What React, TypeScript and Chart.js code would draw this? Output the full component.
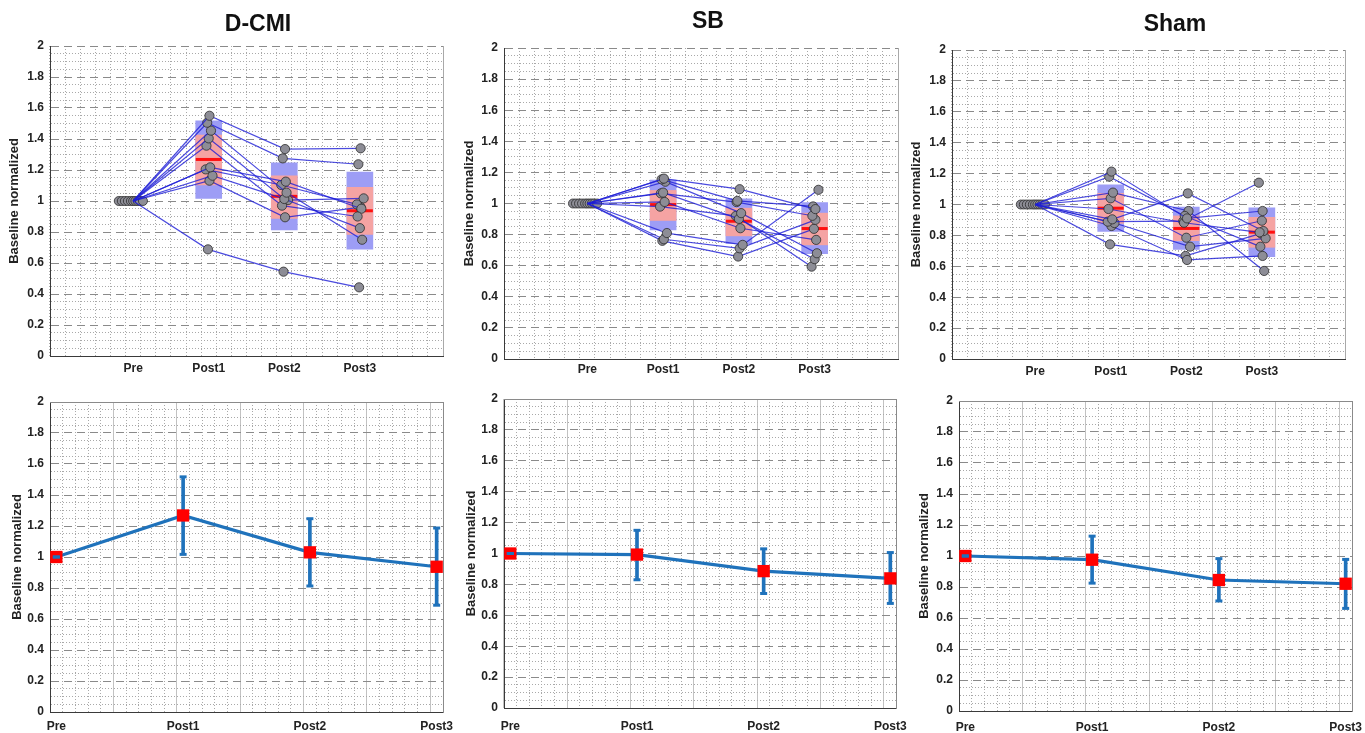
import React, { useEffect, useRef } from 'react';
import { Chart, registerables } from 'chart.js';

Chart.register(...registerables);
Chart.defaults.font.family = '"Liberation Sans", Arial, sans-serif';
Chart.defaults.color = '#222222';

// ---------------- DATA ----------------
const timepoints = ['Pre', 'Post1', 'Post2', 'Post3'];
const groupNames = ['D-CMI', 'SB', 'Sham'];
const yAxisTitle = 'Baseline normalized';

// Individual subjects, Pre = 1 for all; values at [Post1, Post2, Post3]
const dcmiSubjects = [
  [1.55, 1.335, 1.34],
  [1.505, 1.275, 1.237],
  [1.454, 1.054, 0.75],
  [1.404, 1.013, 0.825],
  [1.357, 0.97, 0.9],
  [1.217, 1.125, 0.95],
  [1.204, 1.103, 0.978],
  [1.163, 1.006, 1.017],
  [1.131, 0.895, 0.96],
  [0.688, 0.544, 0.443],
];
const sbSubjects = [
  [1.16, 1.092, 0.964],
  [1.155, 1.017, 0.981],
  [1.14, 0.938, 0.68],
  [1.07, 0.901, 0.642],
  [1.065, 1.009, 0.921],
  [1.01, 0.841, 0.766],
  [0.98, 0.92, 0.594],
  [0.81, 0.734, 1.088],
  [0.77, 0.712, 0.895],
  [0.76, 0.659, 0.837],
];
const shamSubjects = [
  [1.213, 0.91, 0.958],
  [1.18, 0.926, 0.727],
  [1.077, 0.958, 0.57],
  [1.04, 0.785, 0.895],
  [0.971, 0.882, 0.82],
  [0.904, 1.072, 0.828],
  [0.889, 0.892, 1.141],
  [0.88, 0.727, 0.781],
  [0.861, 0.641, 0.667],
  [0.742, 0.667, 0.813],
];

// Group means and spreads at [Pre, Post1, Post2, Post3]
const dcmiMean = [1.0, 1.268, 1.03, 0.937];
const dcmiSdLow = [1.0, 1.017, 0.813, 0.689];
const dcmiSdHigh = [1.0, 1.517, 1.247, 1.187];
const dcmiCiLow = [1.0, 1.103, 0.888, 0.785];
const dcmiCiHigh = [1.0, 1.426, 1.163, 1.088];

const sbMean = [1.0, 0.993, 0.886, 0.839];
const sbSdLow = [1.0, 0.83, 0.741, 0.677];
const sbSdHigh = [1.0, 1.15, 1.03, 1.006];
const sbCiLow = [1.0, 0.891, 0.792, 0.734];
const sbCiHigh = [1.0, 1.084, 0.97, 0.938];

const shamMean = [1.0, 0.976, 0.845, 0.821];
const shamSdLow = [1.0, 0.825, 0.71, 0.662];
const shamSdHigh = [1.0, 1.128, 0.983, 0.978];
const shamCiLow = [1.0, 0.878, 0.766, 0.723];
const shamCiHigh = [1.0, 1.072, 0.926, 0.917];

// horizontal jitter of the scatter markers (x units)
const preJitter = [-0.19, -0.15, -0.11, -0.07, -0.03, 0.0, 0.03, 0.06, 0.09, 0.13];
const postJitter = [0.01, -0.02, 0.03, 0.0, -0.03, 0.02, -0.04, 0.05, 0.01, -0.01];

const yTickLabels = ['0', '0.2', '0.4', '0.6', '0.8', '1', '1.2', '1.4', '1.6', '1.8', '2'];

const groups = [
  { name: groupNames[0], subjects: dcmiSubjects, mean: dcmiMean, sdLow: dcmiSdLow, sdHigh: dcmiSdHigh, ciLow: dcmiCiLow, ciHigh: dcmiCiHigh },
  { name: groupNames[1], subjects: sbSubjects, mean: sbMean, sdLow: sbSdLow, sdHigh: sbSdHigh, ciLow: sbCiLow, ciHigh: sbCiHigh },
  { name: groupNames[2], subjects: shamSubjects, mean: shamMean, sdLow: shamSdLow, sdHigh: shamSdHigh, ciLow: shamCiLow, ciHigh: shamCiHigh },
];

// ---------------- LAYOUT / STYLE ----------------
const topLayout = [
  { left: 0, top: 0, w: 516, h: 386, yW: 50, rW: 73, titlePad: { top: 11.2, bottom: 7.2 }, xPad: 5, xH: 30, yTitlePad: 7 },
  { left: 454, top: 0, w: 508, h: 389, yW: 50, rW: 64, titlePad: { top: 8.2, bottom: 12.2 }, xPad: 3, xH: 30, yTitlePad: 8 },
  { left: 905, top: 0, w: 540, h: 389, yW: 47, rW: 100, titlePad: { top: 11.2, bottom: 11.2 }, xPad: 5, xH: 30, yTitlePad: 4 },
];
const bottomLayout = [
  { left: 0, top: 385, w: 463, h: 348, padT: 17, yW: 50, xH: 21, xPad: 7, yTitlePad: 10 },
  { left: 454, top: 385, w: 464, h: 348, padT: 14, yW: 50, xH: 25, xPad: 11, yTitlePad: 10 },
  { left: 909, top: 385, w: 463, h: 348, padT: 16, yW: 50, xH: 22, xPad: 9, yTitlePad: 8 },
];

const C = {
  majorGrid: '#8a8a8a',
  minorGrid: '#a9a9a9',
  halfGrid: '#c2c2c2',
  axis: '#3a3a3a',
  boxBlue: '#9d9df5',
  boxPink: '#f5a3a3',
  meanRed: '#ff1010',
  subjLine: 'rgba(30,30,215,0.8)',
  markerFill: '#8d8d96',
  markerEdge: '#2b2b2b',
  errBlue: '#1f72bb',
  square: '#ff0000',
};

const near = (v: number, step: number) => Math.abs(v / step - Math.round(v / step)) < 1e-6;
const tickFont = { size: 12, weight: 'bold' as const };
const DOT = [1, 2];
const DASH = [8, 5];

function yScale(l: any) {
  return {
    type: 'linear',
    position: 'left',
    min: 0,
    max: 2,
    afterFit: (s: any) => { s.width = l.yW; },
    ticks: {
      stepSize: 0.05,
      autoSkip: false,
      maxTicksLimit: 1000,
      padding: 6,
      font: tickFont,
      color: '#222',
      callback: (v: any) => {
        const n = Number(v);
        return near(n, 0.2) ? yTickLabels[Math.round(n / 0.2)] : '';
      },
    },
    grid: {
      drawTicks: false,
      lineWidth: 1,
      color: (ctx: any) => {
        const v = ctx.tick ? ctx.tick.value : 0;
        return near(v, 0.2) ? C.majorGrid : C.minorGrid;
      },
    },
    border: {
      display: true,
      color: C.axis,
      width: 1,
      dash: (ctx: any) => {
        if (!ctx.tick) return [];
        return near(ctx.tick.value, 0.2) ? DASH : DOT;
      },
    },
    title: {
      display: true,
      text: yAxisTitle,
      font: { size: 13, weight: 'bold' },
      color: '#222',
      padding: { top: l.yTitlePad, bottom: 0 },
    },
  };
}

function topConfig(gi: number): any {
  const g = groups[gi];
  const l = topLayout[gi];
  const post = [1, 2, 3];
  const datasets: any[] = [];
  datasets.push({
    type: 'bar',
    data: post.map((i) => ({ x: i + 1, y: [g.sdLow[i], g.sdHigh[i]] })),
    backgroundColor: C.boxBlue,
    borderWidth: 0,
    barThickness: 26,
    grouped: false,
    order: 10,
  });
  datasets.push({
    type: 'bar',
    data: post.map((i) => ({ x: i + 1, y: [g.ciLow[i], g.ciHigh[i]] })),
    backgroundColor: C.boxPink,
    borderWidth: 0,
    barThickness: 26,
    grouped: false,
    order: 9,
  });
  datasets.push({
    type: 'scatter',
    data: post.map((i) => ({ x: i + 1, y: g.mean[i] })),
    pointStyle: 'line',
    pointRadius: 13,
    borderColor: C.meanRed,
    borderWidth: 3,
    order: 8,
  });
  datasets.push({
    type: 'scatter',
    data: preJitter.map((j) => ({ x: 1 + j, y: 1 })),
    pointRadius: 4.5,
    pointBackgroundColor: C.markerFill,
    pointBorderColor: C.markerEdge,
    pointBorderWidth: 0.8,
    order: 7,
  });
  g.subjects.forEach((s, k) => {
    datasets.push({
      type: 'line',
      data: [{ x: 1, y: 1 }, ...s.map((v, i) => ({ x: i + 2 + postJitter[k], y: v }))],
      borderColor: C.subjLine,
      borderWidth: 1.2,
      tension: 0,
      pointRadius: [0, 4.6, 4.6, 4.6],
      pointBackgroundColor: C.markerFill,
      pointBorderColor: C.markerEdge,
      pointBorderWidth: 0.8,
      order: 5,
    });
  });

  return {
    type: 'scatter',
    data: { datasets },
    options: {
      responsive: false,
      animation: false,
      devicePixelRatio: 1,
      events: [],
      layout: { padding: 0 },
      plugins: {
        legend: { display: false },
        tooltip: { enabled: false },
        title: {
          display: true,
          text: g.name,
          font: { size: 23, weight: 'bold' },
          color: '#111',
          padding: l.titlePad,
        },
      },
      scales: {
        x: {
          type: 'linear',
          position: 'bottom',
          min: 0,
          max: 5,
          afterFit: (s: any) => { s.height = l.xH; },
          ticks: {
            stepSize: 0.2,
            autoSkip: false,
            maxTicksLimit: 1000,
            maxRotation: 0,
            padding: l.xPad,
            font: tickFont,
            color: '#222',
            callback: (v: any) => {
              const n = Number(v);
              const r = Math.round(n);
              return near(n, 1) && r >= 1 && r <= 4 ? timepoints[r - 1] : '';
            },
          },
          grid: { drawTicks: false, color: C.minorGrid, lineWidth: 1 },
          border: { display: true, color: C.axis, width: 1, dash: (ctx: any) => (ctx.tick ? DOT : []) },
        },
        y: yScale(l),
        yR: {
          type: 'linear',
          position: 'right',
          display: true,
          afterFit: (s: any) => { s.width = l.rW; },
          grid: { display: false, drawTicks: false },
          ticks: { display: false },
          border: { display: false },
        },
      },
    },
  };
}

function bottomConfig(gi: number): any {
  const g = groups[gi];
  const l = bottomLayout[gi];
  const idx = [0, 1, 2, 3];
  const datasets: any[] = [
    {
      type: 'scatter',
      data: [
        ...idx.map((i) => ({ x: i, y: g.sdHigh[i] })),
        ...idx.map((i) => ({ x: i, y: g.sdLow[i] })),
      ],
      pointStyle: 'line',
      pointRadius: 3.5,
      borderColor: C.errBlue,
      borderWidth: 3,
      clip: false,
      order: 0,
    },
    {
      type: 'scatter',
      data: idx.map((i) => ({ x: i, y: g.mean[i] })),
      pointStyle: 'rect',
      pointRadius: 8.7,
      backgroundColor: C.square,
      borderColor: C.square,
      borderWidth: 0,
      clip: false,
      order: 1,
    },
    {
      type: 'bar',
      data: idx.map((i) => ({ x: i, y: [g.sdLow[i], g.sdHigh[i]] })),
      backgroundColor: C.errBlue,
      borderWidth: 0,
      barThickness: 3,
      grouped: false,
      clip: false,
      order: 2,
    },
    {
      type: 'line',
      data: idx.map((i) => ({ x: i, y: g.mean[i] })),
      borderColor: C.errBlue,
      borderWidth: 3.2,
      pointRadius: 0,
      tension: 0,
      clip: false,
      order: 3,
    },
  ];

  return {
    type: 'scatter',
    data: { datasets },
    options: {
      responsive: false,
      animation: false,
      devicePixelRatio: 1,
      events: [],
      layout: { padding: { top: l.padT, right: 20, left: 0, bottom: 0 } },
      plugins: { legend: { display: false }, tooltip: { enabled: false }, title: { display: false } },
      scales: {
        x: {
          type: 'linear',
          position: 'bottom',
          min: 0,
          max: 3,
          afterFit: (s: any) => { s.height = l.xH; },
          ticks: {
            stepSize: 0.1,
            autoSkip: false,
            maxTicksLimit: 1000,
            maxRotation: 0,
            padding: l.xPad,
            font: tickFont,
            color: '#222',
            callback: (v: any) => {
              const n = Number(v);
              return near(n, 1) ? timepoints[Math.round(n)] : '';
            },
          },
          grid: {
            drawTicks: false,
            lineWidth: 1,
            color: (ctx: any) => {
              const v = ctx.tick ? ctx.tick.value : 0;
              return near(v, 0.5) ? C.halfGrid : C.minorGrid;
            },
          },
          border: {
            display: true,
            color: C.axis,
            width: 1,
            dash: (ctx: any) => {
              if (!ctx.tick) return [];
              return near(ctx.tick.value, 0.5) ? [] : DOT;
            },
          },
        },
        y: yScale(l),
        xTop: {
          type: 'linear',
          position: 'top',
          display: true,
          min: 0,
          max: 3,
          afterFit: (s: any) => { s.height = 0; },
          grid: { display: false, drawTicks: false },
          ticks: { display: false },
          border: { display: true, color: '#8a8a8a', width: 1 },
        },
        yRight: {
          type: 'linear',
          position: 'right',
          display: true,
          min: 0,
          max: 2,
          afterFit: (s: any) => { s.width = 0; },
          grid: { display: false, drawTicks: false },
          ticks: { display: false },
          border: { display: true, color: '#8a8a8a', width: 1 },
        },
      },
    },
  };
}

function ChartPanel({ config, left, top, w, h }: { config: any; left: number; top: number; w: number; h: number }) {
  const ref = useRef<HTMLCanvasElement | null>(null);
  useEffect(() => {
    if (!ref.current) return;
    const chart = new Chart(ref.current, config);
    return () => chart.destroy();
  }, [config]);
  return (
    <canvas
      ref={ref}
      width={w}
      height={h}
      style={{ position: 'absolute', left, top, width: w, height: h }}
    />
  );
}

const topConfigs = [0, 1, 2].map((i) => topConfig(i));
const bottomConfigs = [0, 1, 2].map((i) => bottomConfig(i));

export default function App() {
  return (
    <div
      style={{
        position: 'absolute',
        left: 0,
        top: 0,
        width: 1365,
        height: 733,
        overflow: 'hidden',
        background: '#ffffff',
      }}
    >
      {topLayout.map((l, i) => (
        <ChartPanel key={'t' + i} config={topConfigs[i]} left={l.left} top={l.top} w={l.w} h={l.h} />
      ))}
      {bottomLayout.map((l, i) => (
        <ChartPanel key={'b' + i} config={bottomConfigs[i]} left={l.left} top={l.top} w={l.w} h={l.h} />
      ))}
    </div>
  );
}
